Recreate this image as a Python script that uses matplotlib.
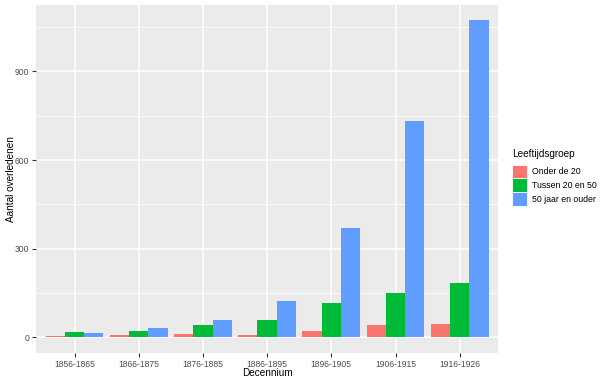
import matplotlib.pyplot as plt
import numpy as np
from matplotlib.patches import Patch

plt.rcParams['font.family'] = ['Liberation Sans', 'DejaVu Sans']

decennia = ['1856-1865', '1866-1875', '1876-1885', '1886-1895',
            '1896-1905', '1906-1915', '1916-1926']
groepen = ['Onder de 20', 'Tussen 20 en 50', '50 jaar en ouder']
onder_20 = [3, 8, 10, 7, 20, 40, 43]
tussen_20_50 = [18, 22, 40, 58, 115, 151, 182]
boven_50 = [15, 31, 58, 121, 370, 731, 1073]
kleuren = ['#F8766D', '#00BA38', '#619CFF']

fig = plt.figure(figsize=(6.05, 3.84), dpi=100)
ax = fig.add_axes([0.0595, 0.081, 0.764, 0.907])
ax.set_facecolor('#EBEBEB')

x = np.arange(len(decennia))
w = 0.3
for i, (vals, kleur) in enumerate(zip([onder_20, tussen_20_50, boven_50], kleuren)):
    ax.bar(x + (i - 1) * w, vals, width=w, color=kleur, zorder=3, linewidth=0)

ymax = max(boven_50)
ax.set_ylim(-0.05 * ymax, 1.05 * ymax)
ax.set_xlim(-0.6, len(decennia) - 0.4)
ax.set_yticks([0, 300, 600, 900])
ax.set_yticks([150, 450, 750, 1050], minor=True)
ax.set_xticks(x)
ax.set_xticklabels(decennia)

ax.grid(True, which='major', color='white', linewidth=1.1, zorder=0)
ax.grid(True, which='minor', axis='y', color='white', linewidth=0.55, zorder=0)
ax.set_axisbelow(True)
for s in ax.spines.values():
    s.set_visible(False)
ax.tick_params(axis='both', which='major', length=3, width=0.8, color='#333333',
               labelsize=6.2, labelcolor='#4D4D4D', pad=2)
ax.tick_params(axis='both', which='minor', length=0)

ax.set_xlabel('Decennium', fontsize=7.2, color='black')
ax.set_ylabel('Aantal overledenen', fontsize=7.2, color='black')
ax.xaxis.set_label_coords(0.5, -0.0575)
ax.yaxis.set_label_coords(-0.055, 0.5)
ax.xaxis.label.set_va('center')
ax.yaxis.label.set_va('center')

handles = [Patch(facecolor=k, edgecolor='white', linewidth=0.6) for k in kleuren]
leg = fig.legend(handles, groepen, loc='upper left', bbox_to_anchor=(0.846, 0.612),
                 frameon=False, fontsize=6.3, title='Leeftijdsgroep', title_fontsize=7.2,
                 handlelength=1.75, handleheight=2.05, labelspacing=0.0, handletextpad=0.6,
                 borderaxespad=0, borderpad=0)
leg._legend_box.align = 'left'
leg._legend_box.sep = 4

fig.savefig('out.png', dpi=100)
